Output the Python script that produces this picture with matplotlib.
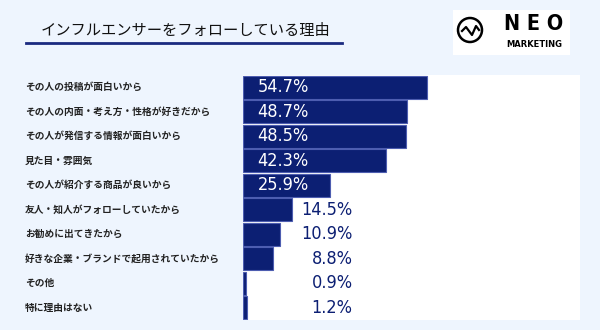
import matplotlib
matplotlib.use("Agg")
import matplotlib.pyplot as plt
import matplotlib.transforms as mtransforms
from matplotlib.patches import Circle
from matplotlib.lines import Line2D

plt.rcParams['font.family'] = ['Noto Sans CJK JP', 'DejaVu Sans']

title = "インフルエンサーをフォローしている理由"
categories = [
    "その人の投稿が面白いから",
    "その人の内面・考え方・性格が好きだから",
    "その人が発信する情報が面白いから",
    "見た目・雰囲気",
    "その人が紹介する商品が良いから",
    "友人・知人がフォローしていたから",
    "お勧めに出てきたから",
    "好きな企業・ブランドで起用されていたから",
    "その他",
    "特に理由はない",
]
values = [54.7, 48.7, 48.5, 42.3, 25.9, 14.5, 10.9, 8.8, 0.9, 1.2]

navy = "#0c1f73"
bg = "#eef5fe"

W, H = 600, 330
fig = plt.figure(figsize=(6, 3.3), dpi=100, facecolor=bg)
ax = fig.add_axes([243 / W, 1 - 320 / H, 337 / W, 245 / H])
ax.set_facecolor("white")

ypos = list(range(len(values)))
ax.barh(ypos, values, height=0.92, color=navy, edgecolor="#4d5db0", linewidth=0.8)
ax.set_xlim(0, 100)
ax.set_ylim(len(values) - 0.5, -0.5)
ax.set_xticks([])
ax.set_yticks([])
for s in ax.spines.values():
    s.set_visible(False)

num_font = dict(family=["DejaVu Sans"], fontstretch="condensed", fontsize=13)
for i, v in enumerate(values):
    label = f"{v:.1f}%"
    if v > 20:
        ax.text(4.3, i, label, color="white", ha="left", va="center", **num_font)
    else:
        ax.text(32.5, i, label, color=navy, ha="right", va="center", **num_font)

# category labels at the left of the figure
trans = mtransforms.blended_transform_factory(fig.transFigure, ax.transData)
for i, c in enumerate(categories):
    ax.text(25 / W, i, c, transform=trans, ha="left", va="center",
            fontsize=7, fontweight="bold", color="#222222")

# title with underline
fig.text(41 / W, 1 - 30.5 / H, title, ha="left", va="center", fontsize=11, color="#111111")
fig.add_artist(Line2D([26 / W, 342 / W], [1 - 43 / H, 1 - 43 / H], color="#1a2a80", linewidth=2))

# logo
logo_ax = fig.add_axes([453 / W, 1 - 55 / H, 117 / W, 45 / H])
logo_ax.set_facecolor("white")
logo_ax.set_xlim(0, 117)
logo_ax.set_ylim(45, 0)
logo_ax.set_xticks([])
logo_ax.set_yticks([])
for s in logo_ax.spines.values():
    s.set_visible(False)
logo_ax.add_patch(Circle((17, 20), 12, fill=False, edgecolor="black", linewidth=1.8))
logo_ax.plot([9, 13, 19, 23, 26], [21, 17, 25, 16, 20], color="black", linewidth=1.6)
logo_ax.text(81, 14.5, "N E O", ha="center", va="center", fontsize=15.5, fontweight="bold",
             family=["DejaVu Sans"], fontstretch="condensed", color="black")
logo_ax.text(81, 34.5, "MARKETING", ha="center", va="center", fontsize=6, fontweight="bold",
             family=["DejaVu Sans"], color="black")

fig.savefig("out.png", dpi=100, facecolor=bg)
